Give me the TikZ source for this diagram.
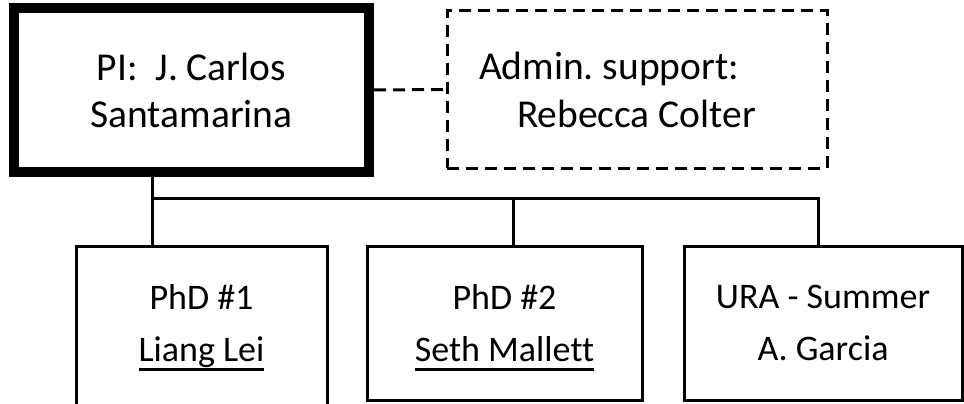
\documentclass[tikz,border=0pt]{standalone}
\usepackage{fontspec}
\setmainfont{Carlito}[Ligatures=NoCommon]
\frenchspacing
\usetikzlibrary{positioning}
% name with a low, heavy underline
\newcommand\uname[1]{\setbox0\hbox{#1}\smash{\rlap{\rule[-9pt]{\wd0}{2.6pt}}\box0}}
\tikzset{
  pibox/.style={
    rectangle, draw=black, line width=10pt,
    minimum width=355pt, minimum height=164pt,
    align=center, font=\fontsize{39.5}{47}\selectfont
  },
  staffbox/.style={
    rectangle, draw=black, line width=3pt, dash pattern=on 12pt off 7pt,
    minimum width=380pt, minimum height=157pt,
    text width=316pt, align=flush left, font=\fontsize{39.5}{48}\selectfont
  },
  rolebox/.style={
    rectangle, draw=black, line width=3pt, outer sep=0pt,
    minimum height=154pt, align=center,
    font=\fontsize{36}{52}\selectfont
  },
  orgline/.style={line width=3pt},
  dashlink/.style={line width=3pt, dash pattern=on 12pt off 7pt},
}
\begin{document}
\begin{tikzpicture}[x=1pt,y=-1pt]
  \useasboundingbox (0,0) rectangle (964,404);
  \node[pibox](pi)at(191.5,90) {PI:~ J. Carlos\\Santamarina};
  \node[staffbox](admin)at(637,89.5) {Admin. support:\\\hspace*{38pt}Rebecca Colter};
  \node[rolebox,draw=none,minimum width=251pt](b1)at(201.5,323) {PhD \#1\\\uname{Liang Lei}};
  \node[rolebox,minimum width=275pt](b2)at(504.5,323) {PhD \#2\\\uname{Seth Mallett}};
  \node[rolebox,minimum width=278pt](b3)at(823,323) {URA - Summer\\A. Garcia};
  % first box runs past the bottom edge
  \draw[orgline]([yshift=-12pt]b1.south west)--(b1.north west)--(b1.north east)--([yshift=-12pt]b1.south east);
  \coordinate(j1)at(152,198);
  \coordinate(j2)at(513,198);
  \coordinate(j3)at(818,198);
  \draw[dashlink](pi.east)--(admin.west);
  \draw[orgline](pi.south -| j1)--(j1)--(j3)--(b3.north -| j3);
  \draw[orgline](j1)--(b1.north -| j1);
  \draw[orgline](j2)--(b2.north -| j2);
\end{tikzpicture}
\end{document}
